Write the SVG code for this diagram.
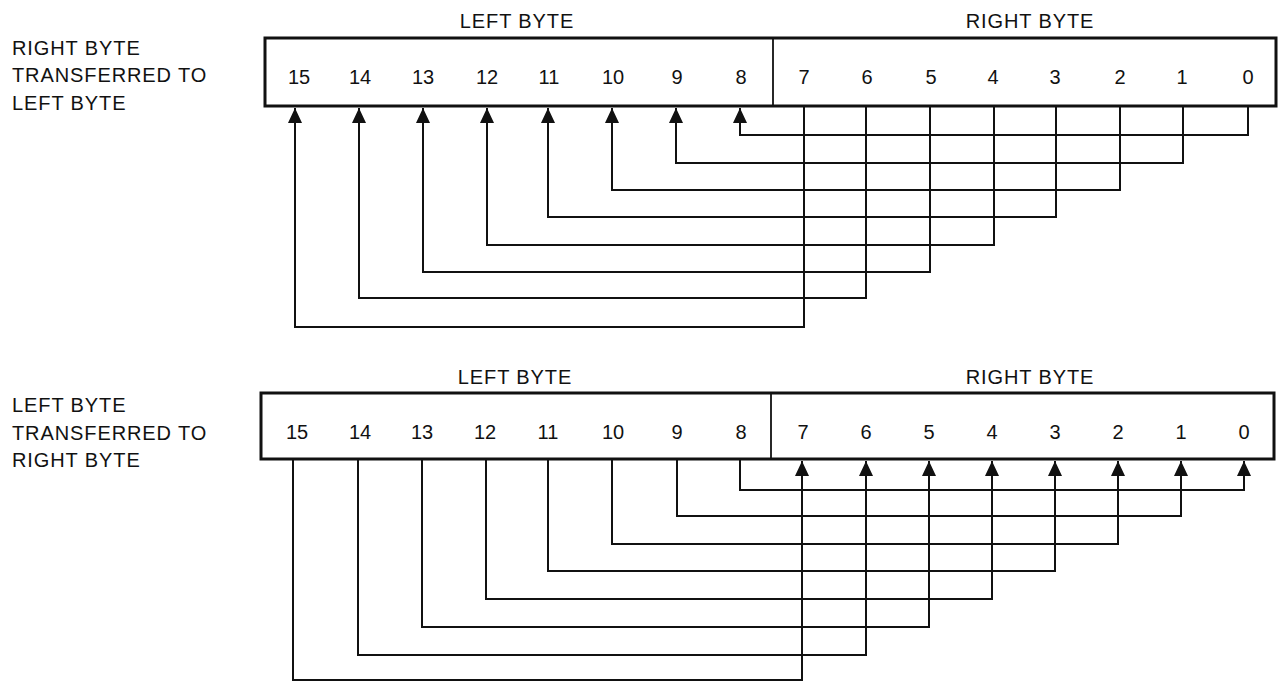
<svg xmlns="http://www.w3.org/2000/svg" width="1278" height="682" viewBox="0 0 1278 682">
<style>
.lbl{font-family:"Liberation Sans",Arial,sans-serif;font-size:20px;fill:#111;letter-spacing:0.9px}
.num{font-family:"Liberation Sans",Arial,sans-serif;font-size:20px;fill:#111;text-anchor:middle}
.box{fill:#fff;stroke:#111;stroke-width:3}
.div{stroke:#111;stroke-width:1.8}
.con{fill:none;stroke:#111;stroke-width:2}
</style>
<defs>
<marker id="ah" markerUnits="userSpaceOnUse" markerWidth="16" markerHeight="16" refX="15" refY="7" orient="auto">
<path d="M0,0 L15,7 L0,14 z" fill="#111"/>
</marker>
</defs>
<rect width="1278" height="682" fill="#fff"/>

<g id="label-top">
<text class="lbl" x="12" y="55">RIGHT BYTE</text>
<text class="lbl" x="12" y="82">TRANSFERRED TO</text>
<text class="lbl" x="12" y="110">LEFT BYTE</text>
</g>
<g id="label-bottom">
<text class="lbl" x="12" y="412">LEFT BYTE</text>
<text class="lbl" x="12" y="440">TRANSFERRED TO</text>
<text class="lbl" x="12" y="467">RIGHT BYTE</text>
</g>

<g id="register-top">
<text class="lbl" x="517" y="28" text-anchor="middle">LEFT BYTE</text>
<text class="lbl" x="1030" y="28" text-anchor="middle">RIGHT BYTE</text>
<rect class="box" x="265" y="38" width="1011" height="68"/>
<line class="div" x1="773" y1="38" x2="773" y2="106"/>
<text class="num" x="299" y="84">15</text>
<text class="num" x="360" y="84">14</text>
<text class="num" x="423" y="84">13</text>
<text class="num" x="487" y="84">12</text>
<text class="num" x="549" y="84">11</text>
<text class="num" x="613" y="84">10</text>
<text class="num" x="677" y="84">9</text>
<text class="num" x="741" y="84">8</text>
<text class="num" x="804" y="84">7</text>
<text class="num" x="867" y="84">6</text>
<text class="num" x="931" y="84">5</text>
<text class="num" x="993" y="84">4</text>
<text class="num" x="1055" y="84">3</text>
<text class="num" x="1120" y="84">2</text>
<text class="num" x="1182" y="84">1</text>
<text class="num" x="1248" y="84">0</text>
</g>

<g id="register-bottom">
<text class="lbl" x="515" y="384" text-anchor="middle">LEFT BYTE</text>
<text class="lbl" x="1030" y="384" text-anchor="middle">RIGHT BYTE</text>
<rect class="box" x="261" y="393" width="1013" height="66"/>
<line class="div" x1="771" y1="393" x2="771" y2="459"/>
<text class="num" x="297" y="439">15</text>
<text class="num" x="360" y="439">14</text>
<text class="num" x="422" y="439">13</text>
<text class="num" x="485" y="439">12</text>
<text class="num" x="548" y="439">11</text>
<text class="num" x="613" y="439">10</text>
<text class="num" x="677" y="439">9</text>
<text class="num" x="741" y="439">8</text>
<text class="num" x="803" y="439">7</text>
<text class="num" x="866" y="439">6</text>
<text class="num" x="929" y="439">5</text>
<text class="num" x="992" y="439">4</text>
<text class="num" x="1055" y="439">3</text>
<text class="num" x="1118" y="439">2</text>
<text class="num" x="1181" y="439">1</text>
<text class="num" x="1244" y="439">0</text>
</g>

<g id="connectors">
<path class="con" marker-end="url(#ah)" d="M1248,106 V135 H740 V108"/>
<path class="con" marker-end="url(#ah)" d="M1183,106 V163 H676 V108"/>
<path class="con" marker-end="url(#ah)" d="M1120,106 V190 H612 V108"/>
<path class="con" marker-end="url(#ah)" d="M1056,106 V217 H548 V108"/>
<path class="con" marker-end="url(#ah)" d="M994,106 V245 H487 V108"/>
<path class="con" marker-end="url(#ah)" d="M930,106 V272 H423 V108"/>
<path class="con" marker-end="url(#ah)" d="M866,106 V298 H359 V108"/>
<path class="con" marker-end="url(#ah)" d="M804,106 V327 H295 V108"/>

<path class="con" marker-end="url(#ah)" d="M740,459 V490 H1244 V461"/>
<path class="con" marker-end="url(#ah)" d="M677,459 V516 H1181 V461"/>
<path class="con" marker-end="url(#ah)" d="M612,459 V544 H1118 V461"/>
<path class="con" marker-end="url(#ah)" d="M548,459 V571 H1055 V461"/>
<path class="con" marker-end="url(#ah)" d="M486,459 V599 H992 V461"/>
<path class="con" marker-end="url(#ah)" d="M422,459 V627 H929 V461"/>
<path class="con" marker-end="url(#ah)" d="M358,459 V655 H866 V461"/>
<path class="con" marker-end="url(#ah)" d="M293,459 V680 H802 V461"/>
</g>
</svg>
